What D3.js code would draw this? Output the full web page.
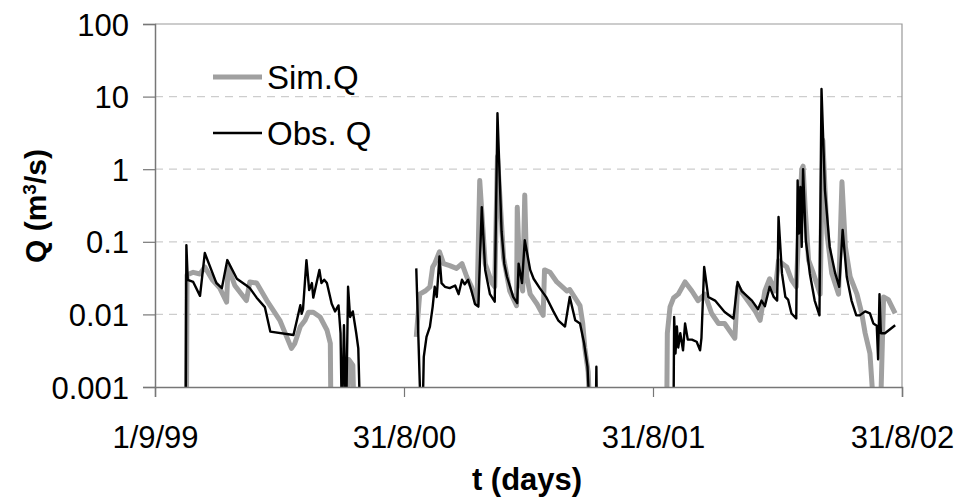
<!DOCTYPE html>
<html>
<head>
<meta charset="utf-8">
<script src="https://cdn.jsdelivr.net/npm/d3@7"></script>
<style>
  body { margin: 0; background: #fff; }
  svg { display: block; font-family: "Liberation Sans", Arial, sans-serif; }
</style>
</head>
<body>
<div class="graph"></div>
<script>
// days counted from 1/9/99, Q in m3/s (0 = dry, null = no record)
var obsDays = [45,46,48,56,66,73,90,98,106,120,134,139,149,161,169,203,208,213,215,217,222,226,230,232,241,244,248,252,259,264,269,272,274,277,280,283,286,290,295,298,301,
    340,
    383,390,392,394,398,403,407,410,413,417,420,425,432,440,445,450,454,459,464,469,474,479,484,491,498,502,508,512,516,525,531,533,538,542,550,555,564,574,584,591,601,608,616,623,629,634,638,646,647,648,
    700,
    760,761,763,765,767,770,774,777,781,787,794,799,801,805,811,821,835,848,854,860,875,884,889,894,901,907,912,914,919,924,928,933,940,942,944,946,948,950,954,960,967,974,977,982,989,997,1003,1008,1014,1021,1028,1033,1041,1048,1053,1058,1060,1062,1064,1070,1085];
var obsQ = [0,0.09,0.03,0.028,0.018,0.07,0.027,0.023,0.056,0.031,0.025,0.023,0.017,0.0126,0.0058,0.0052,0.0083,0.0134,0.0102,0.0118,0.056,0.0216,0.027,0.017,0.041,0.027,0.03,0.027,0.014,0.011,0.0133,0.0055,0,0.0071,0,0.024,0.0092,0.011,0.0055,0.0034,0,
    null,
    0.043,0,0,0.0026,0.0049,0.0068,0.0127,0.024,0.0174,0.063,0.027,0.024,0.023,0.025,0.019,0.03,0.026,0.03,0.021,0.0139,0.0128,0.3,0.041,0.019,0.015,5.9,0.14,0.05,0.033,0.0174,0.0143,0.05,0.027,0.105,0.041,0.031,0.023,0.017,0.011,0.0083,0.0068,0.0174,0.0083,0.0075,0.004,0.0019,0,0,0.0019,0,
    null,
    0,0.0092,0.0029,0.0068,0.0035,0.0055,0.0032,0.0075,0.0045,0.0045,0.0042,0.0032,0.0047,0.045,0.0174,0.0155,0.0108,0.0088,0.028,0.021,0.0155,0.0118,0.0155,0.013,0.024,0.0174,0.0155,0.22,0.037,0.0174,0.016,0.0103,0.0088,0.7,0.13,0.57,0.085,1.0,0.105,0.036,0.0155,0.0097,12.7,0.52,0.085,0.037,0.024,0.146,0.033,0.0155,0.0097,0.0097,0.011,0.0103,0.0075,0.007,0.0024,0.019,0.0055,0.0055,0.0071];

var simDays = [46,47,56,66,73,84,95,105,107,117,134,139,149,164,183,200,205,213,220,225,232,242,252,257,258,282,284,290,292,
    340,
    383,388,396,403,407,410,417,423,432,442,450,457,464,472,476,484,494,498,502,511,520,530,531,535,539,542,545,550,560,569,571,579,589,604,608,623,627,630,635,638,
    700,
    750,751,755,760,767,777,787,796,806,816,826,835,850,854,865,880,887,894,901,909,914,926,933,940,943,948,950,953,958,965,975,979,985,992,1002,1007,1012,1019,1029,1036,1041,1048,1055,1063,1068,1075,1085];
var simQ = [0,0.035,0.038,0.036,0.045,0.03,0.023,0.0148,0.045,0.025,0.0155,0.028,0.027,0.0155,0.0083,0.0034,0.004,0.0068,0.0083,0.0107,0.0107,0.0092,0.0061,0.004,0,0,0.0024,0.002,0,
    null,
    0.0049,0.019,0.021,0.024,0.045,0.05,0.073,0.05,0.047,0.043,0.05,0.033,0.024,0.0139,0.7,0.05,0.027,0.024,1.5,0.06,0.021,0.0132,0.3,0.03,0.021,0.44,0.033,0.019,0.0139,0.0097,0.041,0.038,0.028,0.021,0.022,0.0132,0.0075,0.0035,0.0016,0,
    null,
    0,0.0055,0.0127,0.0168,0.019,0.028,0.021,0.0155,0.019,0.0103,0.0075,0.0075,0.0047,0.024,0.0174,0.011,0.0083,0.021,0.031,0.021,0.055,0.045,0.03,0.024,0.1,1.0,1.1,0.3,0.056,0.037,0.019,2.5,0.13,0.037,0.019,0.67,0.085,0.033,0.019,0.0103,0.0055,0.0029,0,0,0.0174,0.016,0.0103];

var xTickDays = [0, 365, 730, 1095];
var xTickLabels = ['1/9/99', '31/8/00', '31/8/01', '31/8/02'];
var yTicks = [0.001, 0.01, 0.1, 1, 10, 100];
var yTickLabels = ['0.001', '0.01', '0.1', '1', '10', '100'];

var width = 963, height = 499;
var plotLeft = 155, plotRight = 902, plotTop = 24, plotBottom = 387;

var x = d3.scaleLinear().domain([0, 1095]).range([plotLeft, plotRight]);
var y = d3.scaleLog().domain([0.001, 100]).range([plotBottom, plotTop]);

var svg = d3.select('.graph').append('svg')
    .attr('width', width)
    .attr('height', height);

svg.append('defs').append('clipPath').attr('id', 'plot')
  .append('rect')
    .attr('x', plotLeft).attr('y', plotTop)
    .attr('width', plotRight - plotLeft).attr('height', plotBottom - plotTop);

// dashed grid
svg.append('g')
  .selectAll('line')
  .data(yTicks.filter(function(d) { return d > 0.001 && d < 100; }))
  .enter().append('line')
    .attr('x1', plotLeft).attr('x2', plotRight)
    .attr('y1', function(d) { return y(d); })
    .attr('y2', function(d) { return y(d); })
    .attr('stroke', '#cdcdcd')
    .attr('stroke-width', 1.2)
    .attr('stroke-dasharray', '8,6');

// frame top + right
svg.append('path')
    .attr('d', 'M' + plotLeft + ',' + plotTop + 'H' + plotRight + 'V' + plotBottom)
    .attr('fill', 'none')
    .attr('stroke', '#999')
    .attr('stroke-width', 1.2);

var toPoints = function(days, vals) {
    return days.map(function(d, i) { return { t: d, q: vals[i] }; });
};

var line = d3.line()
    .defined(function(d) { return d.q !== null; })
    .x(function(d) { return x(d.t); })
    .y(function(d) { return y(Math.max(d.q, 0.0003)); });

var plot = svg.append('g').attr('clip-path', 'url(#plot)');

plot.append('path')
    .datum(toPoints(simDays, simQ))
    .attr('d', line)
    .attr('fill', 'none')
    .attr('stroke', '#a0a0a0')
    .attr('stroke-width', 5)
    .attr('stroke-linejoin', 'round');

plot.append('path')
    .datum(toPoints(obsDays, obsQ))
    .attr('d', line)
    .attr('fill', 'none')
    .attr('stroke', '#000')
    .attr('stroke-width', 2.4)
    .attr('stroke-linejoin', 'round');

// axes
var yAxis = d3.axisLeft(y)
    .tickValues(yTicks)
    .tickFormat(function(d, i) { return yTickLabels[i]; })
    .tickSize(12)
    .tickPadding(14);

var xAxis = d3.axisBottom(x)
    .tickValues(xTickDays)
    .tickFormat(function(d, i) { return xTickLabels[i]; })
    .tickSize(10)
    .tickPadding(29);

var gy = svg.append('g').attr('transform', 'translate(' + plotLeft + ',0)').call(yAxis);
var gx = svg.append('g').attr('transform', 'translate(0,' + plotBottom + ')').call(xAxis);

[gx, gy].forEach(function(g) {
    g.select('.domain').attr('stroke', '#777').attr('stroke-width', 1.5);
    g.selectAll('.tick line').attr('stroke', '#777').attr('stroke-width', 1.2);
    g.selectAll('.tick text')
        .attr('fill', '#000')
        .style('font-size', '31px')
        .style('font-family', '"Liberation Sans", Arial, sans-serif');
});
gy.selectAll('.tick text').attr('dy', '0.36em');

// axis titles
svg.append('text')
    .attr('x', 527)
    .attr('y', 490)
    .attr('text-anchor', 'middle')
    .style('font-size', '31px')
    .style('font-weight', 'bold')
    .text('t (days)');

var yt = svg.append('text')
    .attr('transform', 'translate(46,206) rotate(-90)')
    .attr('text-anchor', 'middle')
    .style('font-size', '30px')
    .style('font-weight', 'bold');
yt.append('tspan').text('Q (m');
yt.append('tspan').attr('baseline-shift', 'super').style('font-size', '19px').text('3');
yt.append('tspan').text('/s)');

// legend
var legendNames = ['Sim.Q', 'Obs. Q'];
var legendColors = ['#a0a0a0', '#000'];
var legendWidths = [5, 2.4];
var lg = svg.append('g').selectAll('g')
    .data(legendNames)
    .enter().append('g')
    .attr('transform', function(d, i) { return 'translate(213,' + (77 + i * 56) + ')'; });
lg.append('line')
    .attr('x1', 0).attr('x2', 49)
    .attr('stroke', function(d, i) { return legendColors[i]; })
    .attr('stroke-width', function(d, i) { return legendWidths[i]; });
lg.append('text')
    .attr('x', 54)
    .attr('dy', '0.36em')
    .style('font-size', '33px')
    .text(function(d) { return d; });
</script>
</body>
</html>
